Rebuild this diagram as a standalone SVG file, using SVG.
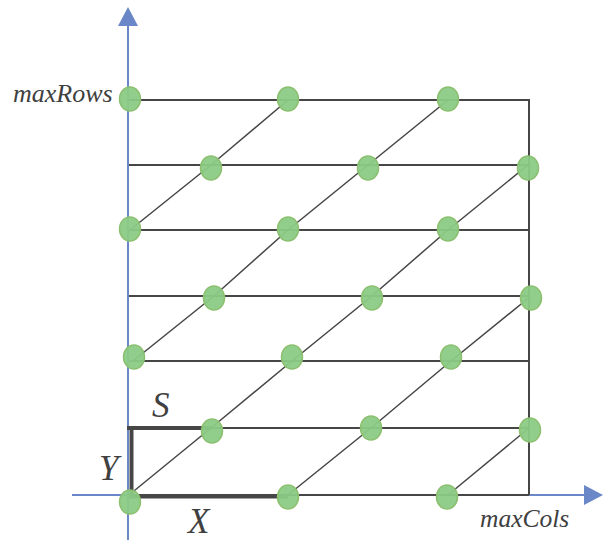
<svg xmlns="http://www.w3.org/2000/svg" width="608" height="540" viewBox="0 0 608 540">
<style>
.ax{stroke:#6a87c7;stroke-width:2;fill:none}
.ah{fill:#6a87c7}
.g{stroke:#464646;stroke-width:2;fill:none}
.d{stroke:#464646;stroke-width:1.5;fill:none}
.th{stroke:#464646;stroke-width:4;fill:none}
.n{fill:#8bcb86;stroke:#8cc070;stroke-width:1.5;fill-opacity:0.95}
.t{font-family:"Liberation Serif",serif;font-style:italic;fill:#404040}
</style>
<rect width="608" height="540" fill="#fff"/>
<g id="axes">
<line class="ax" x1="128" y1="540" x2="128" y2="22"/>
<polygon class="ah" points="128,7 118,26 138,26"/>
<line class="ax" x1="72" y1="495" x2="586" y2="495"/>
<polygon class="ah" points="603,495 584,485 584,505"/>
</g>
<g id="connectors">
<line class="g" x1="129" y1="100" x2="529" y2="100"/>
<line class="g" x1="129" y1="165" x2="529" y2="165"/>
<line class="g" x1="129" y1="230" x2="529" y2="230"/>
<line class="g" x1="129" y1="296" x2="529" y2="296"/>
<line class="g" x1="129" y1="361" x2="529" y2="361"/>
<line class="g" x1="129" y1="428" x2="529" y2="428"/>
<line class="g" x1="529" y1="99" x2="529" y2="495"/>
<line class="g" x1="129" y1="495" x2="529" y2="495" stroke-width="1.5"/>
<polyline class="d" points="129,495 211,428 292,361 372,296 448,230 528,165"/>
<polyline class="d" points="288,495 371,428 451,361 531,296"/>
<line class="d" x1="448" y1="495" x2="529" y2="428"/>
<polyline class="d" points="133,361 214,296 288,230 368,165 448,100"/>
<polyline class="d" points="130,230 211,165 288,100"/>
<line class="th" x1="127" y1="428" x2="211" y2="428"/>
<line class="th" x1="131.5" y1="428" x2="131.5" y2="495"/>
<line class="th" x1="129" y1="496.5" x2="288" y2="496.5"/>
</g>
<g id="nodes">
<g id="r0"><ellipse class="n" cx="130" cy="99" rx="10.5" ry="12"/><ellipse class="n" cx="288" cy="99" rx="10.5" ry="12"/><ellipse class="n" cx="448" cy="99" rx="10.5" ry="12"/></g>
<g id="r1"><ellipse class="n" cx="211" cy="168" rx="10.5" ry="12"/><ellipse class="n" cx="368" cy="168" rx="10.5" ry="12"/><ellipse class="n" cx="528" cy="168" rx="10.5" ry="12"/></g>
<g id="r2"><ellipse class="n" cx="130" cy="229" rx="10.5" ry="12"/><ellipse class="n" cx="288" cy="229" rx="10.5" ry="12"/><ellipse class="n" cx="448" cy="229" rx="10.5" ry="12"/></g>
<g id="r3"><ellipse class="n" cx="214" cy="298" rx="10.5" ry="12"/><ellipse class="n" cx="372" cy="298" rx="10.5" ry="12"/><ellipse class="n" cx="531" cy="298" rx="10.5" ry="12"/></g>
<g id="r4"><ellipse class="n" cx="134" cy="357" rx="10.5" ry="12"/><ellipse class="n" cx="292" cy="357" rx="10.5" ry="12"/><ellipse class="n" cx="451" cy="357" rx="10.5" ry="12"/></g>
<g id="r5"><ellipse class="n" cx="212" cy="431" rx="10.5" ry="12"/><ellipse class="n" cx="371" cy="428" rx="10.5" ry="12"/><ellipse class="n" cx="530" cy="430" rx="10.5" ry="12"/></g>
<g id="r6"><ellipse class="n" cx="130" cy="502" rx="10.5" ry="12"/><ellipse class="n" cx="288" cy="497" rx="10.5" ry="12"/><ellipse class="n" cx="447" cy="497" rx="10.5" ry="12"/></g>
</g>
<g id="labels">
<text class="t" x="13" y="102" font-size="26">maxRows</text>
<text class="t" x="152" y="417" font-size="35">S</text>
<text class="t" x="99" y="480" font-size="35">Y</text>
<text class="t" x="188" y="533" font-size="35">X</text>
<text class="t" x="480" y="527" font-size="25.5">maxCols</text>
</g>
</svg>
